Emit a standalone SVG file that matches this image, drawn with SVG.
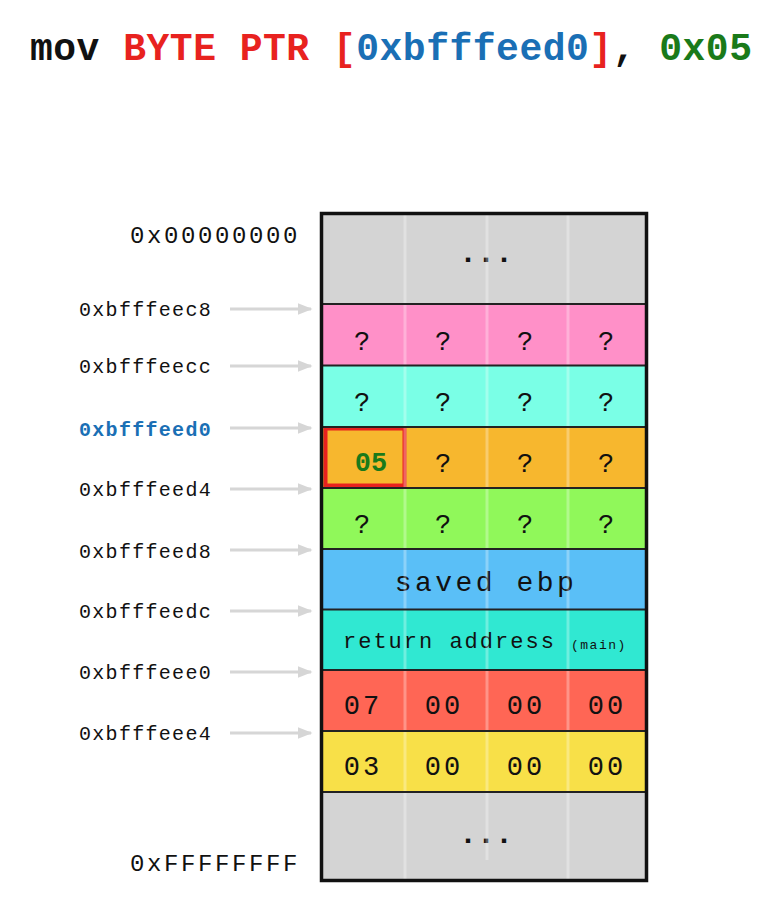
<svg xmlns="http://www.w3.org/2000/svg" width="782" height="900" viewBox="0 0 782 900">
<style>
.mono{font-family:"Liberation Mono","DejaVu Sans Mono",monospace;}
.title{font-size:38px;font-weight:bold;letter-spacing:0.5px;}
.addr{font-size:20px;letter-spacing:1.3px;fill:#111;}
.big{font-size:24px;letter-spacing:2.6px;fill:#111;}
.cell{font-size:27px;fill:#111;text-anchor:middle;}
.dots{font-size:30px;font-weight:bold;fill:#111;text-anchor:middle;}
.sep{stroke:#222;stroke-width:2;}
.col{stroke:#fff;stroke-opacity:0.3;stroke-width:3;}
.arrow{stroke:#d6d6d6;stroke-width:3;marker-end:url(#ah);}
</style>
<defs>
<marker id="ah" markerWidth="5" markerHeight="4" refX="4.5" refY="2" orient="auto" markerUnits="strokeWidth">
<path d="M0,0 L5,2 L0,4 Z" fill="#d6d6d6"/>
</marker>
</defs>
<rect width="782" height="900" fill="#fff"/>
<text class="mono title" x="30" y="60"><tspan fill="#111">mov </tspan><tspan fill="#e8221f">BYTE PTR [</tspan><tspan fill="#1a6fb5">0xbfffeed0</tspan><tspan fill="#e8221f">]</tspan><tspan fill="#111">, </tspan><tspan fill="#1a7a1a">0x05</tspan></text>

<g id="row-top"><rect x="321" y="213" width="326" height="91" fill="#d4d4d4"/><text class="mono dots" x="486" y="262">...</text></g>
<g id="row-ec8"><rect x="321" y="304" width="326" height="61" fill="#ff90c8"/>
<text class="mono cell" x="362" y="350">?</text><text class="mono cell" x="443" y="350">?</text><text class="mono cell" x="525" y="350">?</text><text class="mono cell" x="606" y="350">?</text></g>
<g id="row-ecc"><rect x="321" y="365" width="326" height="62" fill="#7affe6"/>
<text class="mono cell" x="362" y="411">?</text><text class="mono cell" x="443" y="411">?</text><text class="mono cell" x="525" y="411">?</text><text class="mono cell" x="606" y="411">?</text></g>
<g id="row-ed0"><rect x="321" y="427" width="326" height="61" fill="#f7b72e"/>
<text class="mono cell" x="443" y="472">?</text><text class="mono cell" x="525" y="472">?</text><text class="mono cell" x="606" y="472">?</text>
<rect x="325.5" y="428.5" width="79" height="57" fill="none" stroke="#e8221f" stroke-width="4"/>
<text class="mono cell" x="371" y="471" style="fill:#1a7a1a;font-weight:bold">05</text></g>
<g id="row-ed4"><rect x="321" y="488" width="326" height="61" fill="#90f85a"/>
<text class="mono cell" x="362" y="533">?</text><text class="mono cell" x="443" y="533">?</text><text class="mono cell" x="525" y="533">?</text><text class="mono cell" x="606" y="533">?</text></g>
<g id="row-ed8"><rect x="321" y="549" width="326" height="61" fill="#5abff7"/>
<text class="mono" x="486" y="591" style="font-size:28px;letter-spacing:3.5px;text-anchor:middle;fill:#111">saved ebp</text></g>
<g id="row-edc"><rect x="321" y="610" width="326" height="60" fill="#30e8d2"/>
<text class="mono" x="343" y="648" style="font-size:22px;letter-spacing:2px;fill:#111">return address</text>
<text class="mono" x="571" y="649" style="font-size:13px;letter-spacing:1.5px;fill:#111">(main)</text></g>
<g id="row-ee0"><rect x="321" y="670" width="326" height="61" fill="#ff6655"/>
<text class="mono cell" x="363" y="714" style="letter-spacing:3px">07</text><text class="mono cell" x="444" y="714" style="letter-spacing:3px">00</text><text class="mono cell" x="526" y="714" style="letter-spacing:3px">00</text><text class="mono cell" x="607" y="714" style="letter-spacing:3px">00</text></g>
<g id="row-ee4"><rect x="321" y="731" width="326" height="61" fill="#f8e048"/>
<text class="mono cell" x="363" y="775" style="letter-spacing:3px">03</text><text class="mono cell" x="444" y="775" style="letter-spacing:3px">00</text><text class="mono cell" x="526" y="775" style="letter-spacing:3px">00</text><text class="mono cell" x="607" y="775" style="letter-spacing:3px">00</text></g>
<g id="row-bottom"><rect x="321" y="792" width="326" height="89" fill="#d4d4d4"/><text class="mono dots" x="486" y="843">...</text></g>

<g id="grid">
<line class="col" x1="405" y1="213" x2="405" y2="881"/>
<line class="col" x1="487" y1="213" x2="487" y2="860"/>
<line class="col" x1="568" y1="213" x2="568" y2="881"/>
<line class="sep" x1="321" y1="304" x2="647" y2="304"/>
<line class="sep" x1="321" y1="365.5" x2="647" y2="365.5"/>
<line class="sep" x1="321" y1="427" x2="647" y2="427"/>
<line class="sep" x1="321" y1="488" x2="647" y2="488"/>
<line class="sep" x1="321" y1="549" x2="647" y2="549"/>
<line class="sep" x1="321" y1="609.5" x2="647" y2="609.5"/>
<line class="sep" x1="321" y1="670" x2="647" y2="670"/>
<line class="sep" x1="321" y1="731" x2="647" y2="731"/>
<line class="sep" x1="321" y1="792" x2="647" y2="792"/>
<rect x="321.5" y="213.5" width="325" height="667" fill="none" stroke="#111" stroke-width="3.5"/>
</g>

<g id="labels">
<text class="mono big" x="130" y="243">0x00000000</text>
<text class="mono addr" x="79" y="316">0xbfffeec8</text>
<text class="mono addr" x="79" y="373">0xbfffeecc</text>
<text class="mono addr" x="79" y="436" style="fill:#1a6fb5;font-weight:bold">0xbfffeed0</text>
<text class="mono addr" x="79" y="496">0xbfffeed4</text>
<text class="mono addr" x="79" y="558">0xbfffeed8</text>
<text class="mono addr" x="79" y="618">0xbfffeedc</text>
<text class="mono addr" x="79" y="679">0xbfffeee0</text>
<text class="mono addr" x="79" y="740">0xbfffeee4</text>
<text class="mono big" x="130" y="871">0xFFFFFFFF</text>
</g>

<g id="connectors">
<line class="arrow" x1="230" y1="309" x2="311" y2="309"/>
<line class="arrow" x1="230" y1="366" x2="311" y2="366"/>
<line class="arrow" x1="230" y1="428" x2="311" y2="428"/>
<line class="arrow" x1="230" y1="489" x2="311" y2="489"/>
<line class="arrow" x1="230" y1="550" x2="311" y2="550"/>
<line class="arrow" x1="230" y1="611" x2="311" y2="611"/>
<line class="arrow" x1="230" y1="672" x2="311" y2="672"/>
<line class="arrow" x1="230" y1="733" x2="311" y2="733"/>
</g>
</svg>
